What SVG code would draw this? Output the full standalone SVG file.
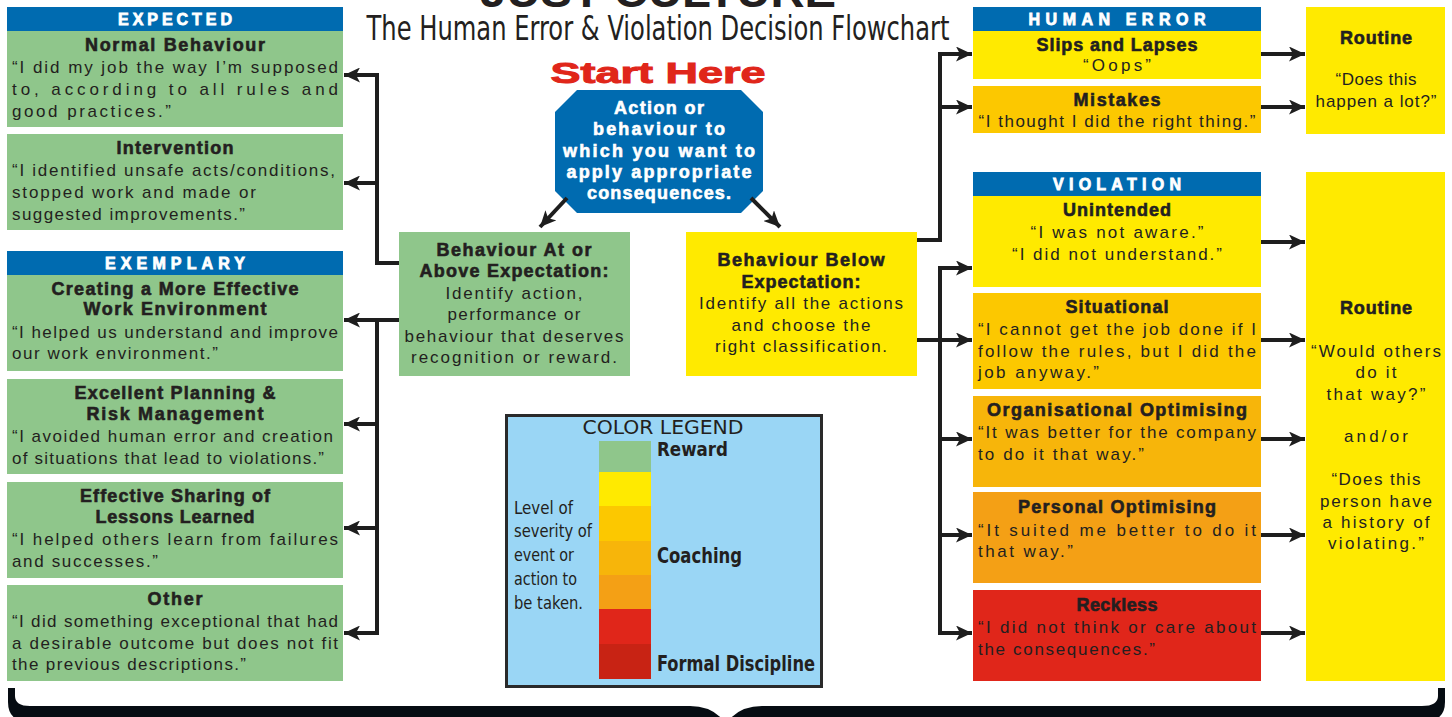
<svg xmlns="http://www.w3.org/2000/svg" width="1452" height="717" viewBox="0 0 1452 717">
<style>
text{font-family:"Liberation Sans",Arial,sans-serif;fill:#231f20}
.t{font-weight:bold;font-size:18px;text-anchor:middle;stroke:#231f20;stroke-width:0.6}
.b{font-size:17px}
.bc{font-size:17px;text-anchor:middle}
.h{font-weight:bold;font-size:16px;fill:#fff;text-anchor:middle;stroke:#fff;stroke-width:0.8}
.w{font-weight:bold;font-size:18px;fill:#fff;text-anchor:middle;stroke:#fff;stroke-width:0.6}
.cn{font-family:"DejaVu Sans Condensed","Liberation Sans Narrow","Liberation Sans",sans-serif;font-size:18px}
.hdr{fill:#006bb0}
.g{fill:#8fc68b}.y{fill:#ffea00}.o1{fill:#fcc800}.o2{fill:#f7b50a}.o3{fill:#f4a015}.r{fill:#e0261a}.dr{fill:#c82314}
.ar{fill:none;stroke:#1e1e1e;stroke-width:4;marker-end:url(#ah)}
</style>
<defs>
<marker id="ah" markerUnits="userSpaceOnUse" markerWidth="17" markerHeight="15" refX="16" refY="7.5" orient="auto">
<path d="M0,0 L16,7.5 L0,15 L4,7.5 Z" fill="#1e1e1e"/>
</marker>
</defs>

<!-- Title -->
<g id="title">
<text x="658" y="7" style="font-weight:bold;font-size:44px;text-anchor:middle" textLength="356" lengthAdjust="spacingAndGlyphs">JUST CULTURE</text>
<text x="658" y="40" class="cn" style="font-size:33px;text-anchor:middle" textLength="583" lengthAdjust="spacingAndGlyphs">The Human Error &amp; Violation Decision Flowchart</text>
<text x="658" y="83" style="font-weight:900;font-size:30px;fill:#e0261a;text-anchor:middle;stroke:#e0261a;stroke-width:1" textLength="215" lengthAdjust="spacingAndGlyphs">Start Here</text>
</g>

<!-- Start octagon -->
<g id="start">
<polygon points="577,90 741,90 763,112 763,191 741,213 577,213 555,191 555,112" class="hdr"/>
<text x="659" y="114" class="w" textLength="90">Action or</text>
<text x="659" y="135" class="w" textLength="132">behaviour to</text>
<text x="659" y="157" class="w" textLength="192">which you want to</text>
<text x="659" y="178" class="w" textLength="185">apply appropriate</text>
<text x="659" y="199" class="w" textLength="144">consequences.</text>
</g>

<!-- Center boxes -->
<g id="at-above">
<rect x="399" y="232" width="231" height="144" class="g"/>
<text x="514" y="256" class="t" textLength="155">Behaviour At or</text>
<text x="514" y="277" class="t" textLength="189">Above Expectation:</text>
<text x="514" y="299" class="bc" textLength="137">Identify action,</text>
<text x="514" y="320" class="bc" textLength="133">performance or</text>
<text x="514" y="342" class="bc" textLength="219">behaviour that deserves</text>
<text x="514" y="363" class="bc" textLength="206">recognition or reward.</text>
</g>
<g id="below">
<rect x="686" y="232" width="231" height="144" class="y"/>
<text x="801" y="266" class="t" textLength="167">Behaviour Below</text>
<text x="801" y="288" class="t" textLength="119">Expectation:</text>
<text x="801" y="309" class="bc" textLength="204">Identify all the actions</text>
<text x="801" y="331" class="bc" textLength="139">and choose the</text>
<text x="801" y="352" class="bc" textLength="172">right classification.</text>
</g>

<!-- Left column -->
<g id="expected">
<rect x="7" y="7" width="336" height="24" class="hdr"/>
<text x="175" y="25" class="h" textLength="114">EXPECTED</text>
</g>
<g id="normal">
<rect x="7" y="31" width="336" height="96" class="g"/>
<text x="175" y="51" class="t" textLength="180">Normal Behaviour</text>
<text x="12" y="73" class="b" textLength="326">“I did my job the way I’m supposed</text>
<text x="12" y="95" class="b" textLength="326">to, according to all rules and</text>
<text x="12" y="117" class="b" textLength="159">good practices.”</text>
</g>
<g id="intervention">
<rect x="7" y="134" width="336" height="96" class="g"/>
<text x="175" y="154" class="t" textLength="117">Intervention</text>
<text x="12" y="176" class="b" textLength="323">“I identified unsafe acts/conditions,</text>
<text x="12" y="198" class="b" textLength="244">stopped work and made or</text>
<text x="12" y="220" class="b" textLength="233">suggested improvements.”</text>
</g>
<g id="exemplary">
<rect x="7" y="251" width="336" height="24" class="hdr"/>
<text x="175" y="269" class="h" textLength="140">EXEMPLARY</text>
</g>
<g id="creating">
<rect x="7" y="275" width="336" height="96" class="g"/>
<text x="175" y="295" class="t" textLength="247">Creating a More Effective</text>
<text x="175" y="315" class="t" textLength="183">Work Environment</text>
<text x="12" y="338" class="b" textLength="326">“I helped us understand and improve</text>
<text x="12" y="359" class="b" textLength="206">our work environment.”</text>
</g>
<g id="planning">
<rect x="7" y="379" width="336" height="95" class="g"/>
<text x="175" y="399" class="t" textLength="201">Excellent Planning &amp;</text>
<text x="175" y="420" class="t" textLength="177">Risk Management</text>
<text x="12" y="442" class="b" textLength="321">“I avoided human error and creation</text>
<text x="12" y="464" class="b" textLength="312">of situations that lead to violations.”</text>
</g>
<g id="sharing">
<rect x="7" y="482" width="336" height="96" class="g"/>
<text x="175" y="502" class="t" textLength="190">Effective Sharing of</text>
<text x="175" y="523" class="t" textLength="159">Lessons Learned</text>
<text x="12" y="545" class="b" textLength="326">“I helped others learn from failures</text>
<text x="12" y="567" class="b" textLength="146">and successes.”</text>
</g>
<g id="other">
<rect x="7" y="585" width="336" height="96" class="g"/>
<text x="175" y="605" class="t" textLength="55">Other</text>
<text x="12" y="627" class="b" textLength="326">“I did something exceptional that had</text>
<text x="12" y="649" class="b" textLength="326">a desirable outcome but does not fit</text>
<text x="12" y="670" class="b" textLength="234">the previous descriptions.”</text>
</g>

<!-- Legend -->
<g id="legend">
<rect x="506.5" y="415.5" width="315" height="271" fill="#9ad6f5" stroke="#2a2a2a" stroke-width="3"/>
<text x="663" y="434" class="cn" style="font-size:20px;text-anchor:middle" textLength="161" lengthAdjust="spacingAndGlyphs">COLOR LEGEND</text>
<rect x="599" y="441" width="52" height="31" class="g"/>
<rect x="599" y="472" width="52" height="34" class="y"/>
<rect x="599" y="506" width="52" height="35" class="o1"/>
<rect x="599" y="541" width="52" height="34" class="o2"/>
<rect x="599" y="575" width="52" height="34" class="o3"/>
<rect x="599" y="609" width="52" height="35" class="r"/>
<rect x="599" y="644" width="52" height="35" class="dr"/>
<text x="657" y="456" class="cn" style="font-weight:bold;font-size:20px" textLength="71" lengthAdjust="spacingAndGlyphs">Reward</text>
<text x="657" y="563" class="cn" style="font-weight:bold;font-size:21px" textLength="85" lengthAdjust="spacingAndGlyphs">Coaching</text>
<text x="657" y="671" class="cn" style="font-weight:bold;font-size:21px" textLength="158" lengthAdjust="spacingAndGlyphs">Formal Discipline</text>
<text x="514" y="514" class="cn" textLength="59" lengthAdjust="spacingAndGlyphs">Level of</text>
<text x="514" y="537" class="cn" textLength="78" lengthAdjust="spacingAndGlyphs">severity of</text>
<text x="514" y="561" class="cn" textLength="60" lengthAdjust="spacingAndGlyphs">event or</text>
<text x="514" y="585" class="cn" textLength="63" lengthAdjust="spacingAndGlyphs">action to</text>
<text x="514" y="609" class="cn" textLength="69" lengthAdjust="spacingAndGlyphs">be taken.</text>
</g>

<!-- Right column: Human error -->
<g id="human-error">
<rect x="973" y="7" width="288" height="24" class="hdr"/>
<text x="1117" y="25" class="h" textLength="177">HUMAN ERROR</text>
</g>
<g id="slips">
<rect x="973" y="31" width="288" height="48" class="y"/>
<text x="1117" y="51" class="t" textLength="161">Slips and Lapses</text>
<text x="1117" y="71" class="bc" textLength="68">“Oops”</text>
</g>
<g id="mistakes">
<rect x="973" y="86" width="288" height="47" class="o1"/>
<text x="1117" y="106" class="t" textLength="87">Mistakes</text>
<text x="1117" y="127" class="bc" textLength="277">“I thought I did the right thing.”</text>
</g>
<g id="routine-1">
<rect x="1306" y="7" width="139" height="127" class="y"/>
<text x="1376" y="44" class="t" textLength="72">Routine</text>
<text x="1376" y="85" class="bc" textLength="81">“Does this</text>
<text x="1376" y="107" class="bc" textLength="121">happen a lot?”</text>
</g>

<!-- Right column: Violation -->
<g id="violation">
<rect x="973" y="172" width="288" height="24" class="hdr"/>
<text x="1117" y="190" class="h" textLength="128">VIOLATION</text>
</g>
<g id="unintended">
<rect x="973" y="196" width="288" height="91" class="y"/>
<text x="1117" y="216" class="t" textLength="108">Unintended</text>
<text x="1117" y="238" class="bc" textLength="173">“I was not aware.”</text>
<text x="1117" y="260" class="bc" textLength="210">“I did not understand.”</text>
</g>
<g id="situational">
<rect x="973" y="293" width="288" height="96" class="o1"/>
<text x="1117" y="313" class="t" textLength="103">Situational</text>
<text x="978" y="335" class="b" textLength="278">“I cannot get the job done if I</text>
<text x="978" y="357" class="b" textLength="278">follow the rules, but I did the</text>
<text x="978" y="378" class="b" textLength="121">job anyway.”</text>
</g>
<g id="organisational">
<rect x="973" y="396" width="288" height="91" class="o2"/>
<text x="1117" y="416" class="t" textLength="260">Organisational Optimising</text>
<text x="978" y="438" class="b" textLength="278">“It was better for the company</text>
<text x="978" y="460" class="b" textLength="166">to do it that way.”</text>
</g>
<g id="personal">
<rect x="973" y="492" width="288" height="91" class="o3"/>
<text x="1117" y="513" class="t" textLength="198">Personal Optimising</text>
<text x="978" y="536" class="b" textLength="278">“It suited me better to do it</text>
<text x="978" y="557" class="b" textLength="95">that way.”</text>
</g>
<g id="reckless">
<rect x="973" y="590" width="288" height="91" class="r"/>
<text x="1117" y="611" class="t" textLength="81">Reckless</text>
<text x="978" y="633" class="b" textLength="278">“I did not think or care about</text>
<text x="978" y="655" class="b" textLength="177">the consequences.”</text>
</g>
<g id="routine-2">
<rect x="1306" y="172" width="139" height="509" class="y"/>
<text x="1376" y="314" class="t" textLength="72">Routine</text>
<text x="1376" y="357" class="bc" textLength="130">“Would others</text>
<text x="1376" y="378" class="bc" textLength="41">do it</text>
<text x="1376" y="400" class="bc" textLength="99">that way?”</text>
<text x="1376" y="442" class="bc" textLength="64">and/or</text>
<text x="1376" y="485" class="bc" textLength="89">“Does this</text>
<text x="1376" y="507" class="bc" textLength="112">person have</text>
<text x="1376" y="528" class="bc" textLength="107">a history of</text>
<text x="1376" y="549" class="bc" textLength="96">violating.”</text>
</g>

<!-- Connectors -->
<g id="connectors">
<path class="ar" d="M567,198 L540,227"/>
<path class="ar" d="M751,198 L780,227"/>
<path class="ar" d="M399,263 H377 V75 H344"/>
<path class="ar" d="M377,183 H344"/>
<path class="ar" d="M399,320 H344"/>
<path class="ar" d="M377,318 V633 H344"/>
<path class="ar" d="M377,424 H344"/>
<path class="ar" d="M377,528 H344"/>
<path class="ar" d="M917,240 H940 V54 H972"/>
<path class="ar" d="M940,107 H972"/>
<path class="ar" d="M917,340 H972"/>
<path class="ar" d="M972,268 H940 V633 H972"/>
<path class="ar" d="M940,268 H972"/>
<path class="ar" d="M940,439 H972"/>
<path class="ar" d="M940,535 H972"/>
<path class="ar" d="M1261,54 H1305"/>
<path class="ar" d="M1261,107 H1305"/>
<path class="ar" d="M1261,242 H1305"/>
<path class="ar" d="M1261,340 H1305"/>
<path class="ar" d="M1261,439 H1305"/>
<path class="ar" d="M1261,535 H1305"/>
<path class="ar" d="M1261,633 H1305"/>
</g>

<!-- Bottom brace -->
<g id="brace">
<path d="M8,688 H15 V696 Q15,706 30,706 H690 Q714,706 726,724 Q738,706 762,706 H1422 Q1438,706 1438,696 V688 H1445 V702 Q1445,722 1422,722 H30 Q8,722 8,702 Z" fill="#060c12"/>
</g>
</svg>
